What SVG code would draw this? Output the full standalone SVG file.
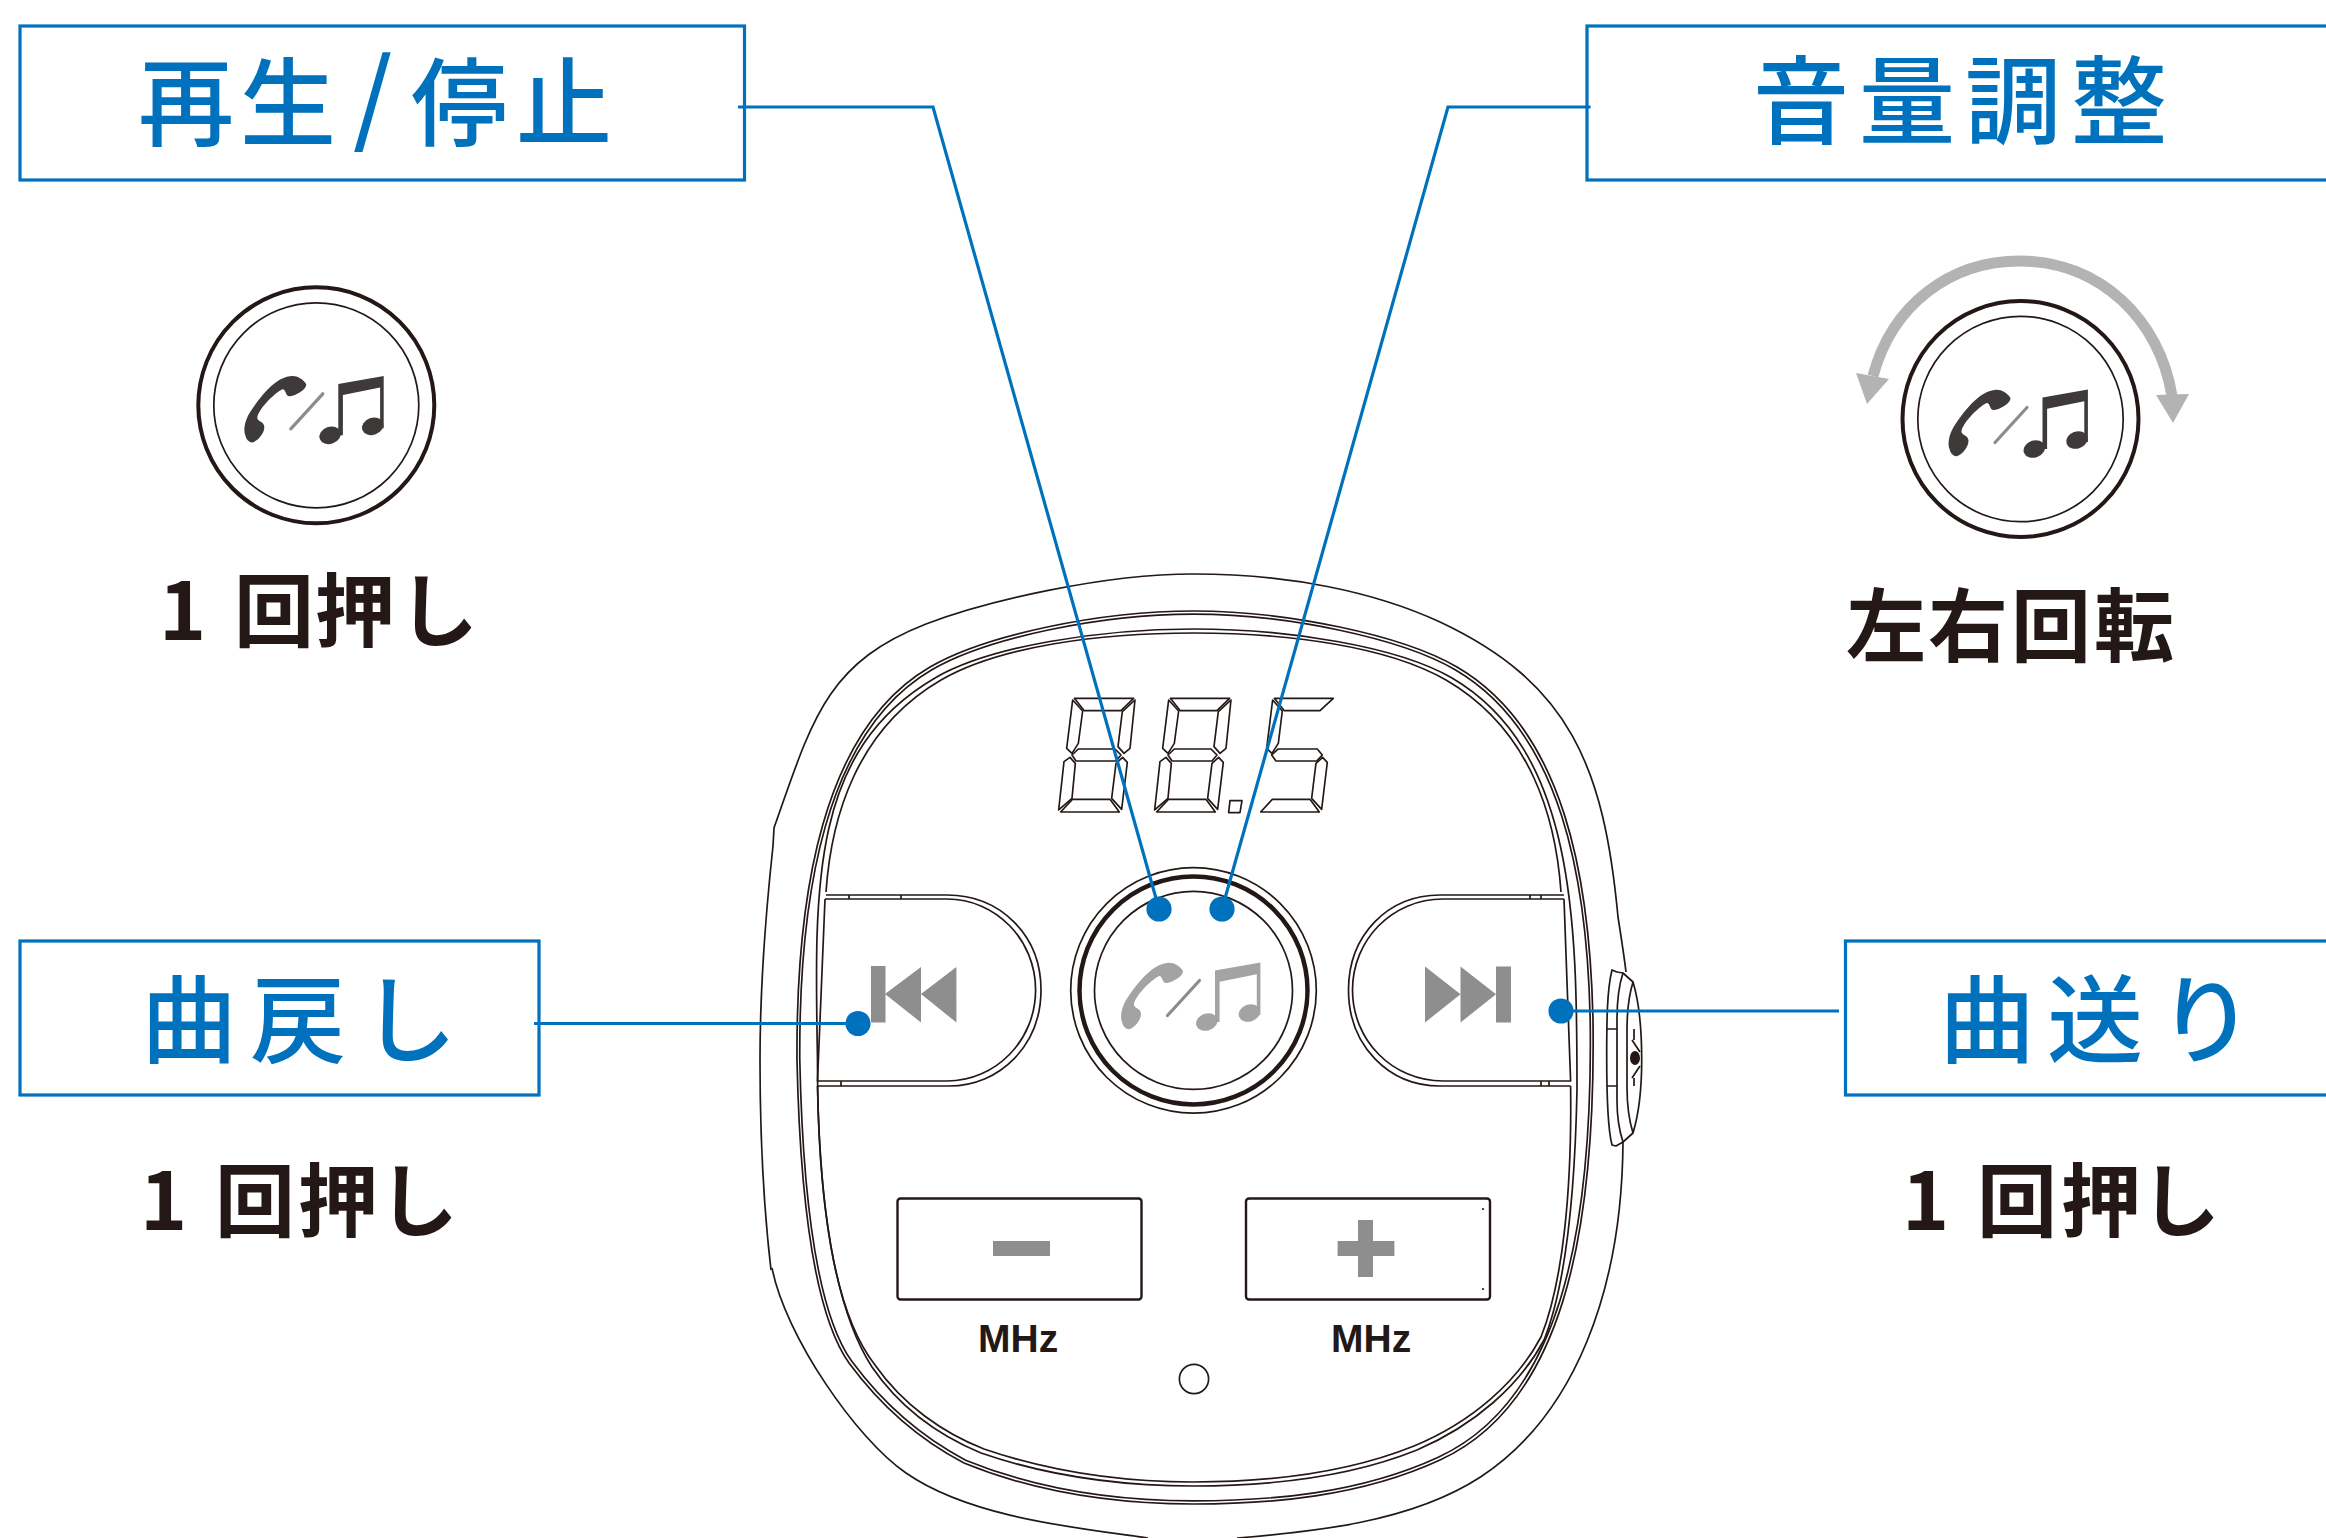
<svg xmlns="http://www.w3.org/2000/svg" width="2326" height="1538" viewBox="0 0 2326 1538">
<style>
.box{fill:#fff;stroke:#0071bc;stroke-width:3.2}
.blue{font-family:"Noto Sans CJK JP","Noto Sans CJK SC",sans-serif;font-size:96px;font-weight:500;fill:#0071bc}
.dark{font-family:"Noto Sans CJK JP","Noto Sans CJK SC",sans-serif;font-size:80px;font-weight:700;fill:#231815}
.mhz{font-family:"Liberation Sans",Arial,sans-serif;font-size:39px;font-weight:700;fill:#231815}
.ln{fill:none;stroke:#231815;stroke-width:1.7;stroke-linejoin:round}
.seg{fill:none;stroke:#231815;stroke-width:5;stroke-linejoin:round}
.gy{fill:#8e8e8e}
.lead{fill:none;stroke:#0071bc;stroke-width:3.2}
.dot{fill:#0071bc}
</style>
<defs>
<g id="glyph">
<path fill="currentColor" d="M-10,-21 C-14,-27 -20,-30 -26,-29 C-40,-28 -55,-10 -65,5 C-72,15 -73,25 -71,30 C-70,35 -66,38 -63,37 C-58,35 -52,28 -52,22 C-52,16 -58,17 -59,13 C-59,5 -42,-12 -34,-16 C-30,-16 -31,-9 -27,-9 C-22,-9 -10,-15 -10,-21 Z"/>
<path d="M-25.5,23.5 L6.5,-11.5" stroke="#8c8c8c" stroke-width="3.2" stroke-linecap="round" fill="none"/>
<path fill="currentColor" d="M22,-21.4 L67.4,-29.4 L67.4,23 L63.8,23 L63.8,-17.8 L26.6,-10.2 L26.6,30 L22,30 Z"/>
<ellipse cx="13.8" cy="30" rx="11" ry="8.5" transform="rotate(-20 13.8 30)" fill="currentColor"/>
<ellipse cx="56.4" cy="21" rx="11" ry="8.5" transform="rotate(-20 56.4 21)" fill="currentColor"/>
</g>
<g id="eight">
<path d="M103,55H281L243,92H133Z"/>
<path d="M98,60L128,93L115,190L96,220L80,205Z"/>
<path d="M285,60L247,95L234,200L252,220L270,205Z"/>
<path d="M96,225L115,207H225L243,225L228,243H108Z"/>
<path d="M90,232L106,250L96,355L56,390L72,245Z"/>
<path d="M248,232L262,247L245,388L215,355L228,250Z"/>
<path d="M97,358H210L238,396H62Z"/>
</g>
<path id="ringA" d="M797,1060 C796,895 822,730 930,667 C985,635 1100,611 1193.5,611 C1287,611 1402,635 1457,667 C1565,730 1590,880 1593,1020 C1596,1240 1560,1405 1440,1460 C1360,1497 1270,1504 1193.5,1504 C1110,1504 1030,1490 964,1463 C920,1440 880,1405 849,1363 C815,1315 800,1200 797,1060 Z"/>
</defs>

<g id="device">
<path class="ln" d="M773,846 L774,828 C812,720 826,663 926,624 C986,601 1103,574 1193.5,574 C1290,574 1375,592 1440,622 C1570,683 1604,767 1618,917 C1621,936 1624,955 1626,972"/>
<path class="ln" d="M773,846 C765,920 760,1000 760,1060 C760,1130 764,1210 771,1270"/>
<path class="ln" d="M772,1268 C785,1335 856,1439 906,1473 C971,1518 1078,1528 1148,1538"/>
<path class="ln" d="M1623,1142 C1622,1290 1575,1415 1480.5,1477 C1410,1523 1310,1532 1237,1538"/>
<use href="#ringA" class="ln" stroke-width="2"/>
<use href="#ringA" class="ln" transform="translate(1193.5 1057) scale(.993) translate(-1193.5 -1057)"/>
<path class="ln" d="M817.5,1060 C814,880 812,750 935,678 C990,646 1100,629 1193.5,629 C1287,629 1397,646 1452,678 C1575,750 1577,920 1577,1090 C1575,1190 1566,1285 1544,1340 C1520,1385 1475,1425 1417,1450 C1350,1477 1270,1486 1193.5,1486 C1115,1486 1045,1475 981,1453 C940,1436 900,1408 872,1367 C835,1310 817,1200 817.5,1060 Z"/>
<path class="ln" d="M826,892 C831,820 855,730 941,680 C1000,646 1100,633 1193.5,633 C1287,633 1387,646 1446,680 C1532,730 1556,820 1561,892"/>
<path class="ln" d="M817.5,1086 C820,1200 832,1310 875,1365 C903,1405 943,1433 984,1449 C1048,1471 1115,1482 1193.5,1482 C1270,1482 1347,1473 1414,1446 C1472,1422 1517,1382 1541,1337 C1563,1282 1572,1190 1570.6,1086"/>
</g>

<g id="side-button">
<path class="ln" d="M1612,970 C1607,990 1606.7,1020 1606.7,1057 C1606.7,1100 1608,1130 1612,1145 L1616,1146 L1623,1142 L1633,1133 C1640,1110 1641.7,1085 1641.7,1060 C1641.7,1030 1640,1005 1633,982 L1623,973 L1617,972 Z"/>
<path class="ln" d="M1623,973 C1619,985 1617,1000 1617,1020 V1100 C1617,1120 1619,1130 1623,1142"/>
<path class="ln" d="M1633,982 C1629,995 1627,1010 1627,1030 V1087 C1627,1105 1629,1120 1633,1133"/>
<path class="ln" d="M1607,1029H1617M1607,1086H1617"/>
<path class="ln" stroke-width="2" d="M1634,1029 V1040 M1632,1040 L1640,1052 M1632,1078 L1640,1066 M1634,1078 V1086"/>
<ellipse cx="1635" cy="1058" rx="5" ry="7" fill="#231815"/>
</g>

<g id="display">
<g class="seg" transform="translate(1040 680) scale(.3333)">
<use href="#eight"/>
<use href="#eight" x="288"/>
<path d="M570,362H606L600,398H566Z"/>
<path d="M703,55H880L840,92H733Z"/>
<path d="M698,60L727,93L715,190L696,220L680,205Z"/>
<path d="M695,225L715,207H832L847,225L830,243H708Z"/>
<path d="M848,232L862,247L845,388L815,355L828,250Z"/>
<path d="M697,358H810L838,396H662Z"/>
</g>
</g>

<g id="prev-button">
<path class="ln" d="M826,895 H947 C1000,895 1041,935 1041,990 C1041,1045 1000,1086 949.5,1086 H817.5"/>
<path class="ln" stroke-width="2.2" d="M825,899 H947 C996,899 1035.6,940 1035.6,990 C1035.6,1040 996,1081 947,1081 H817.5 L825,899"/>
<path class="ln" d="M849,895V899M901,895V899M841,1081V1086"/>
<rect class="gy" x="871" y="966" width="14.5" height="56.5"/>
<path class="gy" d="M885,994 L921,967 V1022.5 Z M921,994 L956.4,967 V1022.5 Z"/>
</g>

<g id="next-button">
<path class="ln" d="M1564,895 H1440 C1388,895 1348.5,935 1348.5,990 C1348.5,1045 1388,1086 1440,1086 H1570.6"/>
<path class="ln" stroke-width="2.2" d="M1564,899 H1443 C1392,899 1352.5,940 1352.5,990 C1352.5,1040 1392,1081 1443,1081 H1570.6 L1564,899"/>
<path class="ln" d="M1530,895V899M1541,895V899M1541,1081V1086M1549,1081V1086"/>
<path class="gy" d="M1425,966.5 L1460.5,994.3 L1425,1022.5 Z M1460.5,966.5 L1496,994.3 L1460.5,1022.5 Z"/>
<rect class="gy" x="1496" y="966.5" width="15" height="56"/>
</g>

<g id="center-knob">
<circle class="ln" cx="1193.5" cy="990.4" r="122.8"/>
<circle cx="1193.5" cy="990.4" r="114" fill="#fff" stroke="#231815" stroke-width="4.5"/>
<circle class="ln" cx="1193.5" cy="990.4" r="99"/>
<use href="#glyph" x="1193" y="992" color="#a3a3a3"/>
</g>

<g id="minus-button">
<rect x="897.5" y="1198.5" width="244" height="101" rx="3" fill="#fff" stroke="#231815" stroke-width="2.4"/>
<rect class="gy" x="993" y="1241" width="57" height="15"/>
<text class="mhz" x="978" y="1352">MHz</text>
</g>
<g id="plus-button">
<rect x="1246" y="1198.5" width="244" height="101" rx="3" fill="#fff" stroke="#231815" stroke-width="2.4"/>
<path class="gy" d="M1358,1220H1373V1241H1394.4V1256H1373V1277H1358V1256H1337.6V1241H1358Z"/>
<circle cx="1483" cy="1209" r="1.1" fill="#231815"/>
<circle cx="1483" cy="1289" r="1.1" fill="#231815"/>
<text class="mhz" x="1331" y="1352">MHz</text>
</g>
<circle id="led" class="ln" cx="1194" cy="1379" r="14.6"/>

<g id="label-play-stop">
<rect class="box" x="20" y="26" width="724.5" height="154"/>
<text class="blue" y="138"><tspan x="138 240">再生</tspan><tspan x="353" y="134" font-size="102">/</tspan><tspan x="411 516" y="138">停止</tspan></text>
</g>
<g id="label-volume">
<rect class="box" x="1587" y="26" width="745" height="154"/>
<text class="blue" y="136" x="1753 1859 1965 2071">音量調整</text>
</g>
<g id="label-prev">
<rect class="box" x="20" y="941" width="519" height="154"/>
<text class="blue" y="1055" x="141 250 361">曲戻し</text>
</g>
<g id="label-next">
<rect class="box" x="1845.5" y="941" width="487" height="154"/>
<text class="blue" y="1055" x="1939 2047 2158">曲送り</text>
</g>

<g id="knob-press">
<circle cx="316.3" cy="405.3" r="118" fill="#fff" stroke="#231815" stroke-width="4"/>
<circle class="ln" cx="316.3" cy="405.3" r="102.5"/>
<use href="#glyph" x="316.3" y="405.3" color="#3e3a39"/>
<text class="dark" y="640" x="159 200 234 315 398">1 回押し</text>
</g>
<g id="knob-rotate">
<path d="M1873,376 C1892,305 1950,261 2020,261 C2100,261 2160,320 2172,396" fill="none" stroke="#b3b3b3" stroke-width="11"/>
<path d="M1856,373 L1889,379 L1867,404 Z M2156,395 L2189,394 L2173,423 Z" fill="#b3b3b3"/>
<circle cx="2020.5" cy="419" r="118" fill="#fff" stroke="#231815" stroke-width="4"/>
<circle class="ln" cx="2020.5" cy="419" r="102.7"/>
<use href="#glyph" x="2020.5" y="419" color="#3e3a39"/>
<text class="dark" y="655" x="1846 1928 2011 2094">左右回転</text>
</g>
<text id="press-prev" class="dark" y="1230" x="140 180 215 298 378">1 回押し</text>
<text id="press-next" class="dark" y="1230" x="1902 1942 1977 2061 2140">1 回押し</text>

<g id="connectors">
<polyline class="lead" points="738,107 933,107 1159,909"/>
<polyline class="lead" points="1590.6,107 1448,107 1222,909"/>
<polyline class="lead" points="534,1023.5 858,1023.5"/>
<polyline class="lead" points="1561,1011 1839,1011"/>
<circle class="dot" cx="1159" cy="909" r="12.6"/>
<circle class="dot" cx="1222" cy="909" r="12.6"/>
<circle class="dot" cx="858" cy="1023.5" r="12.6"/>
<circle class="dot" cx="1561" cy="1011" r="12.6"/>
</g>
</svg>
